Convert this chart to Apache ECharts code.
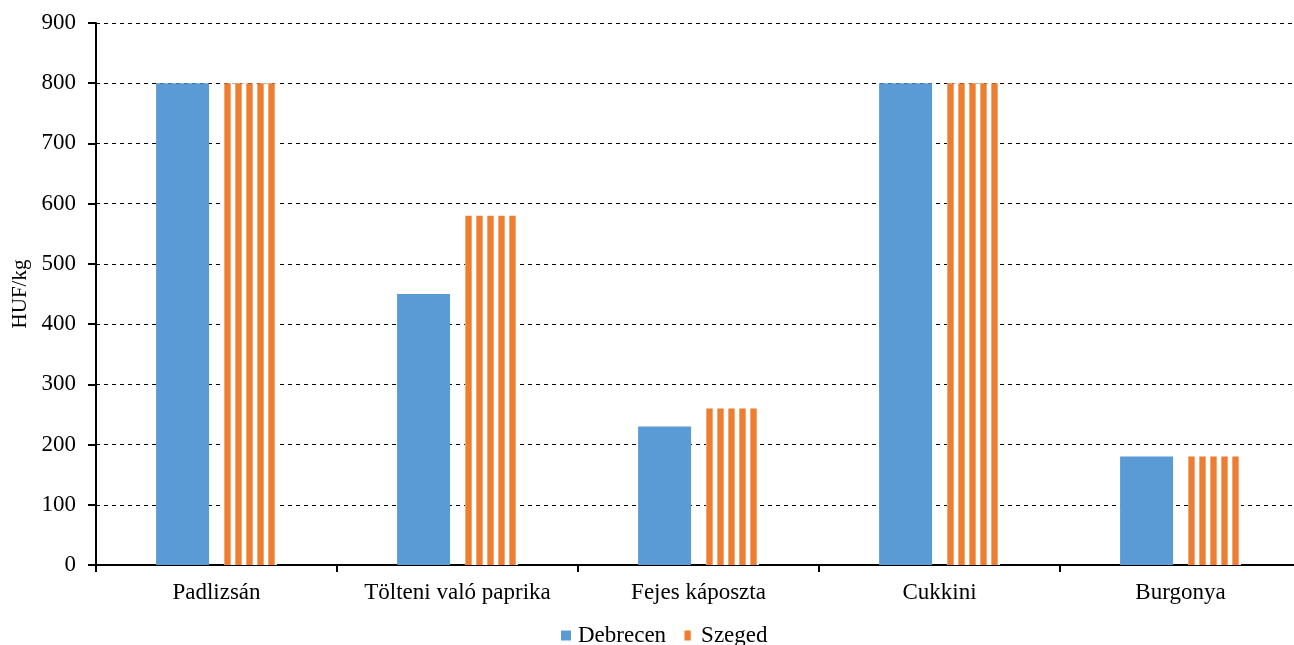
<!DOCTYPE html>
<html>
<head>
<meta charset="utf-8">
<script src="https://cdn.jsdelivr.net/npm/echarts@6/dist/echarts.min.js"></script>
<style>
html,body{margin:0;padding:0;background:#fff;overflow:hidden;width:1294px;height:645px;}
#chart{width:1301px;height:645px;}
</style>
</head>
<body>
<div id="chart"></div>
<script>
const categories = ['Padlizsán', 'Tölteni való paprika', 'Fejes káposzta', 'Cukkini', 'Burgonya'];
const debrecen = [800, 450, 230, 800, 180];
const szeged = [800, 580, 260, 800, 180];
const yTicks = [0, 100, 200, 300, 400, 500, 600, 700, 800, 900];

const FONT = '"Liberation Serif", "Times New Roman", serif';
const BLUE = '#5B9BD5';
const ORANGE = '#ED7D31';

function stripeTile() {
  const c = document.createElement('canvas');
  c.width = 11; c.height = 4;
  const g = c.getContext('2d');
  g.fillStyle = '#ffffff'; g.fillRect(0, 0, 11, 4);
  g.fillStyle = '#F3A873'; g.fillRect(0, 0, 1, 4); g.fillRect(6, 0, 1, 4);
  g.fillStyle = ORANGE; g.fillRect(1, 0, 5, 4);
  return c;
}
const tile = stripeTile();
function stripe(x) { return { image: tile, repeat: 'repeat', x: x || 0, y: 0 }; }

const chart = echarts.init(document.getElementById('chart'), null, { renderer: 'canvas' });

const option = {
  animation: false,
  backgroundColor: '#ffffff',
  textStyle: { fontFamily: FONT, color: '#000' },
  grid: { left: 96, top: 23, right: 0, bottom: 80, containLabel: false },
  legend: {
    top: 619,
    left: 556,
    itemGap: 18,
    itemWidth: 10,
    itemHeight: 10,
    icon: 'rect',
    textStyle: { fontFamily: FONT, fontSize: 23, color: '#000', padding: [0, 0, 0, 2] },
    data: ['Debrecen', 'Szeged']
  },
  xAxis: {
    type: 'category',
    data: categories,
    boundaryGap: true,
    axisLine: { lineStyle: { color: '#000', width: 2 } },
    axisTick: { show: true, length: 7, lineStyle: { color: '#000', width: 2 } },
    axisLabel: { fontFamily: FONT, fontSize: 23, color: '#000', margin: 16, interval: 0 },
    splitLine: { show: false }
  },
  yAxis: {
    type: 'value',
    min: yTicks[0],
    max: yTicks[yTicks.length - 1],
    interval: yTicks[1] - yTicks[0],
    name: 'HUF/kg',
    nameLocation: 'middle',
    nameGap: 65,
    nameRotate: 90,
    nameTextStyle: { fontFamily: FONT, fontSize: 21, color: '#000' },
    axisLine: { show: true, lineStyle: { color: '#000', width: 2 } },
    axisTick: { show: true, length: 8, lineStyle: { color: '#000', width: 2 } },
    axisLabel: { fontFamily: FONT, fontSize: 23, color: '#000', margin: 20 },
    splitLine: { show: true, lineStyle: { color: '#000', width: 1, type: [4, 4] } }
  },
  series: [
    {
      name: 'Debrecen',
      type: 'bar',
      data: debrecen,
      barWidth: 53,
      barGap: '28%',
      itemStyle: { color: BLUE }
    },
    {
      name: 'Szeged',
      type: 'bar',
      data: szeged,
      barWidth: 53,
      barGap: '28%',
      itemStyle: { color: stripe(0) }
    }
  ]
};

chart.setOption(option);

// align stripe phase with each bar's left edge (positions taken from the library's own layout)
try {
  const data = chart.getModel().getSeriesByIndex(1).getData();
  const items = szeged.map(function (v, i) {
    const l = data.getItemLayout(i);
    return { value: v, itemStyle: { color: stripe(l ? Math.round(l.x) : 0) } };
  });
  chart.setOption({ series: [{}, { data: items }] });
} catch (e) {}
</script>
</body>
</html>
